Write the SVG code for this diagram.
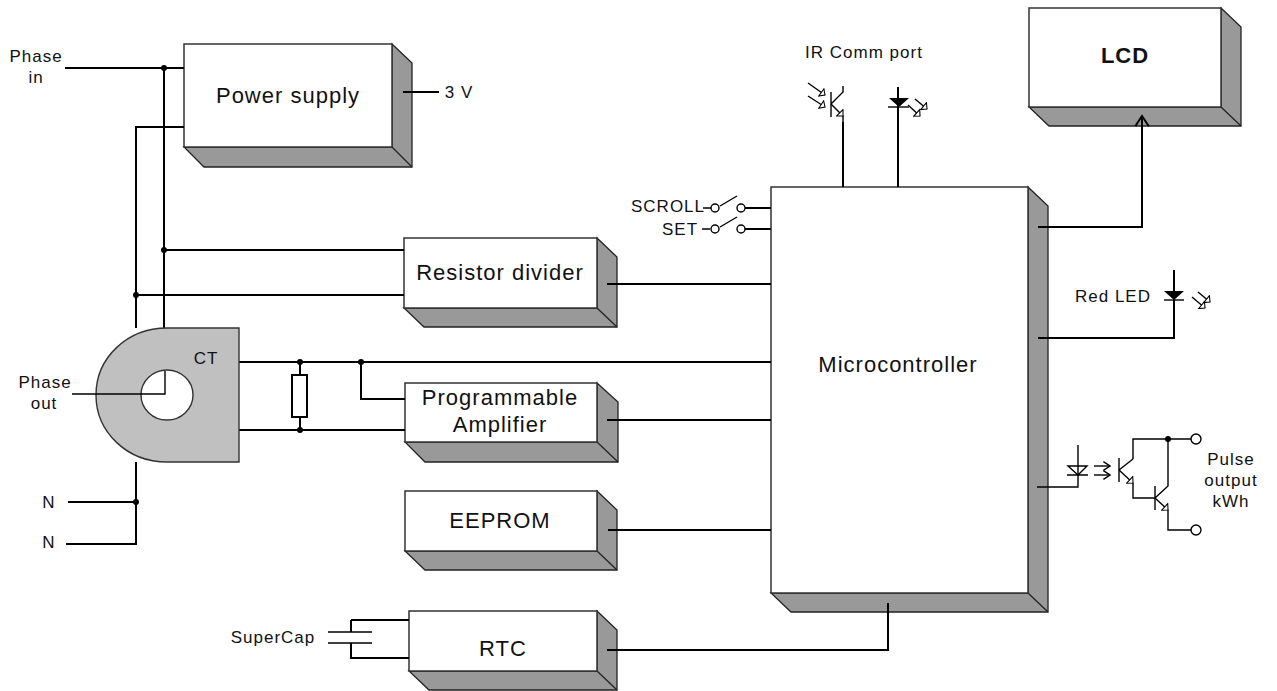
<svg xmlns="http://www.w3.org/2000/svg" width="1277" height="691" viewBox="0 0 1277 691">
<style>
text{font-family:"Liberation Sans",Arial,sans-serif;fill:#111;text-anchor:middle}
.s{font-size:17px;letter-spacing:1px}
.b{font-size:22px;letter-spacing:1px}
.f{fill:#fff;stroke:#333;stroke-width:1.5}
.d{fill:#999;stroke:#222;stroke-width:1.3}
.w{fill:none;stroke:#000;stroke-width:2}
.t{fill:none;stroke:#000;stroke-width:1.4}
.dot{fill:#000}
.o{fill:#fff;stroke:#000;stroke-width:1.4}
.ct{fill:#c0c0c0;stroke:#333;stroke-width:1.4}
</style>
<defs>
<marker id="oh" viewBox="0 -2 12 14" refX="9" refY="5" markerWidth="9" markerHeight="10.5" markerUnits="userSpaceOnUse" orient="auto"><path d="M3 -1L9 5L3 11Z" fill="#fff" stroke="#000" stroke-width="1.4"/></marker>
<marker id="ah" viewBox="0 0 10 10" refX="9" refY="5" markerWidth="17" markerHeight="17" markerUnits="userSpaceOnUse" orient="auto"><path d="M3 1L9 5L3 9" fill="none" stroke="#000" stroke-width="1.2"/></marker>
<marker id="ch" viewBox="0 0 10 10" refX="9" refY="5" markerWidth="11" markerHeight="11" markerUnits="userSpaceOnUse" orient="auto"><path d="M3 1L9 5L3 9" fill="none" stroke="#000" stroke-width="1.3"/></marker>
</defs>
<g id="microcontroller"><path class="d" d="M1028 187L1048 206V612H791L771 593H1028Z"/><path class="d" d="M1028 593L1048 612" fill="none"/><rect class="f" x="771" y="187" width="257" height="406"/><text class="b" x="898" y="372">Microcontroller</text></g>
<g id="power-supply"><path class="d" d="M392 44L412 63V167H204L184 147H392Z"/><path class="d" d="M392 147L412 167"/><rect class="f" x="184" y="44" width="208" height="103"/><text class="b" x="288" y="103">Power supply</text></g>
<g id="lcd"><path class="d" d="M1221 8L1241 27V126H1049L1029 107H1221Z"/><path class="d" d="M1221 107L1241 126"/><rect class="f" x="1029" y="8" width="192" height="99"/><text class="b" x="1125" y="63" style="font-weight:bold">LCD</text></g>
<g id="resistor-divider"><path class="d" d="M597 238L617 257V327H424L404 308H597Z"/><path class="d" d="M597 308L617 327"/><rect class="f" x="404" y="238" width="193" height="70"/><text class="b" x="500" y="280">Resistor divider</text></g>
<g id="programmable-amplifier"><path class="d" d="M597 383L618 402V462H425L405 442H597Z"/><path class="d" d="M597 442L618 462"/><rect class="f" x="405" y="383" width="192" height="59"/><text class="b" x="500" y="405">Programmable</text><text class="b" x="500" y="432">Amplifier</text></g>
<g id="eeprom"><path class="d" d="M597 491L617 510V570H425L405 551H597Z"/><path class="d" d="M597 551L617 570"/><rect class="f" x="405" y="491" width="192" height="60"/><text class="b" x="500" y="528">EEPROM</text></g>
<g id="rtc"><path class="d" d="M597 611L617 630V690H429L409 671H597Z"/><path class="d" d="M597 671L617 690"/><rect class="f" x="409" y="611" width="188" height="60"/><text class="b" x="503" y="656">RTC</text></g>
<g id="connectors">
<path class="w" d="M65 68H184M164 68V328M184 127H136V328M136 462V544H66M68 502H136M164 250H404M136 295H404"/>
<path class="w" d="M239 362H771M239 430H405M300 362V375M300 417V430M361 362V399H405"/>
<path class="w" d="M403 92H439M607 284H771M607 420H771M608 530H771M607 650H888V603"/>
<path class="w" d="M1038 227H1142V116" marker-end="url(#ah)"/>
<path class="w" d="M1038 338H1174V270"/>
<path class="t" d="M1037 487H1078V445"/>
<path class="w" d="M843 122V187M898 87V187"/>
<path class="w" d="M745 208H771M745 229H771"/>
<path class="t" d="M703 208H711M702 229H710"/>
<path class="w" d="M351 620H409M351 620V632M351 643V658H409"/>
</g>
<g id="ct"><path class="ct" d="M239 328V462H167C127 462 96 432 96 395C96 358 127 328 167 328Z"/><ellipse cx="167" cy="395" rx="26" ry="25" fill="#fff" stroke="#333" stroke-width="1.4"/><path class="t" d="M72 394H165V371"/><text class="s" x="206" y="364">CT</text></g>
<g id="resistor"><rect x="292" y="375" width="15" height="42" fill="#fff" stroke="#000" stroke-width="2"/></g>
<g id="dots"><circle class="dot" cx="164" cy="68" r="3"/><circle class="dot" cx="164" cy="250" r="3"/><circle class="dot" cx="136" cy="295" r="3"/><circle class="dot" cx="136" cy="502" r="3"/><circle class="dot" cx="300" cy="362" r="3"/><circle class="dot" cx="300" cy="430" r="3"/><circle class="dot" cx="361" cy="362" r="3"/><circle class="dot" cx="1168" cy="439" r="3"/></g>
<g id="scroll-switch"><circle class="o" cx="715" cy="208" r="4"/><circle class="o" cx="741" cy="208" r="4"/><path class="t" d="M720 206L737 196"/></g>
<g id="set-switch"><circle class="o" cx="715" cy="229" r="4"/><circle class="o" cx="741" cy="229" r="4"/><path class="t" d="M720 227L737 217"/></g>
<g id="ir-receiver"><path class="t" d="M831 92V117M831 104L843 92V86M843 116V122"/><path class="t" d="M831 104L843 116" marker-end="url(#oh)"/><path class="t" d="M808 83L825 95" marker-end="url(#oh)"/><path class="t" d="M808 96L825 107" marker-end="url(#oh)"/></g>
<g id="ir-led"><path d="M889 98H909L899 107Z" fill="#000"/><path class="t" d="M888 107H909"/><path class="t" d="M908 105L920 116" marker-end="url(#oh)"/><path class="t" d="M915 99L927 109" marker-end="url(#oh)"/></g>
<g id="red-led"><path d="M1164 291H1184L1174 300Z" fill="#000"/><path class="t" d="M1164 300H1184"/><path class="t" d="M1192 297L1205 308" marker-end="url(#oh)"/><path class="t" d="M1198 292L1210 302" marker-end="url(#oh)"/></g>
<g id="opto"><path class="t" d="M1068 466H1087L1078 475ZM1067 475H1088"/><path class="t" d="M1094 466H1110" marker-end="url(#ch)"/><path class="t" d="M1094 475H1110" marker-end="url(#ch)"/>
<path class="t" d="M1119 458V482M1155 486V510M1133 459V439H1191M1119 470L1133 459M1133 483V498H1155M1155 498L1168 486V439M1168 510V530H1191"/>
<path class="t" d="M1119 470L1133 483" marker-end="url(#oh)"/><path class="t" d="M1155 498L1168 510" marker-end="url(#oh)"/>
<circle class="o" cx="1196" cy="439" r="5"/><circle class="o" cx="1196" cy="530" r="5"/></g>
<g id="supercap"><path class="t" d="M328 632H372M328 643H372" style="stroke-width:1.6"/></g>
<g id="labels">
<text class="s" x="36" y="62">Phase</text><text class="s" x="36" y="83">in</text>
<text class="s" x="45" y="388">Phase</text><text class="s" x="44" y="409">out</text>
<text class="s" x="49" y="508">N</text><text class="s" x="49" y="548">N</text>
<text class="s" x="459" y="98">3 V</text>
<text class="s" x="864" y="58">IR Comm port</text>
<text class="s" x="668" y="212">SCROLL</text><text class="s" x="680" y="235">SET</text>
<text class="s" x="1113" y="302">Red LED</text>
<text class="s" x="1231" y="465">Pulse</text><text class="s" x="1231" y="486">output</text><text class="s" x="1231" y="507">kWh</text>
<text class="s" x="273" y="643">SuperCap</text>
</g>
</svg>
